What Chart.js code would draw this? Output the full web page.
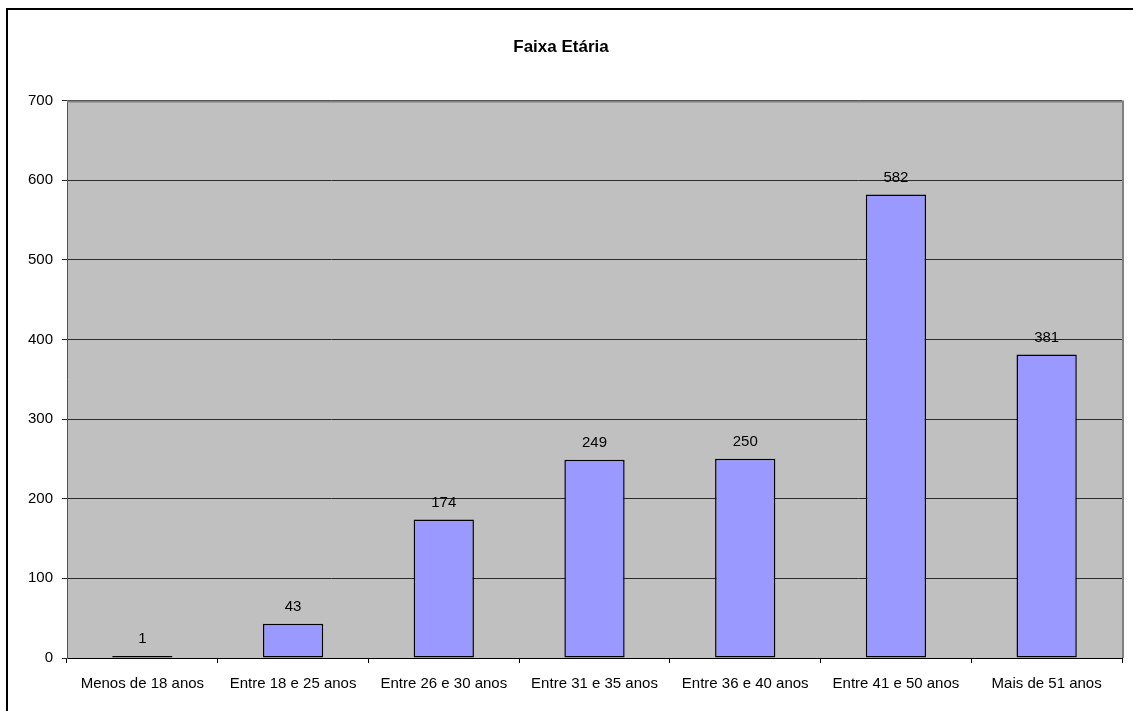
<!DOCTYPE html>
<html>
<head>
<meta charset="utf-8">
<title>Faixa Etária</title>
<script src="https://cdn.jsdelivr.net/npm/chart.js@4/dist/chart.umd.min.js"></script>
<style>
  html, body { margin: 0; padding: 0; background: #fff; }
  #chart { display: block; }
</style>
</head>
<body>
<canvas id="chart" width="1133" height="711"></canvas>
<script>
// age brackets and respondent counts
const faixas = ['Menos de 18 anos', 'Entre 18 e 25 anos', 'Entre 26 e 30 anos', 'Entre 31 e 35 anos',
  'Entre 36 e 40 anos', 'Entre 41 e 50 anos', 'Mais de 51 anos'];
const totais = [1, 43, 174, 249, 250, 582, 381];
const yTicks = [0, 100, 200, 300, 400, 500, 600, 700];

const FONT = 'Arial, "Liberation Sans", sans-serif';

// gray plot background, frame and the black corner border of the sheet
const chartFrame = {
  id: 'chartFrame',
  beforeDraw(chart) {
    const { ctx, chartArea: a } = chart;
    ctx.save();
    ctx.fillStyle = '#fff';
    ctx.fillRect(0, 0, chart.width, chart.height);
    ctx.fillStyle = '#c0c0c0';
    ctx.fillRect(a.left, a.top, a.right - a.left, a.bottom - a.top);
    ctx.restore();
  },
  afterDraw(chart) {
    const { ctx, chartArea: a } = chart;
    ctx.save();
    ctx.strokeStyle = '#808080';
    ctx.lineWidth = 2;
    ctx.beginPath();
    ctx.moveTo(a.left, a.top + 1);
    ctx.lineTo(a.right + 1, a.top + 1);
    ctx.lineTo(a.right + 1, a.bottom);
    ctx.stroke();

    ctx.strokeStyle = '#000';
    ctx.beginPath();
    ctx.moveTo(7, chart.height);
    ctx.lineTo(7, 9);
    ctx.lineTo(chart.width, 9);
    ctx.stroke();
    ctx.restore();
  }
};

// value printed above each bar
const valueLabels = {
  id: 'valueLabels',
  afterDatasetsDraw(chart) {
    const { ctx } = chart;
    const meta = chart.getDatasetMeta(0);
    ctx.save();
    ctx.fillStyle = '#000';
    ctx.font = '15px ' + FONT;
    ctx.textAlign = 'center';
    ctx.textBaseline = 'middle';
    meta.data.forEach((bar, i) => {
      ctx.fillText(String(totais[i]), bar.x, bar.y - 17);
    });
    ctx.restore();
  }
};

new Chart(document.getElementById('chart'), {
  type: 'bar',
  data: {
    labels: faixas,
    datasets: [{
      data: totais,
      backgroundColor: '#9999ff',
      borderColor: '#000',
      borderWidth: 1.5,
      borderSkipped: false,
      minBarLength: 2,
      barPercentage: 0.4,
      categoryPercentage: 1
    }]
  },
  options: {
    responsive: false,
    animation: false,
    devicePixelRatio: 1,
    layout: { padding: { left: 0, right: 11, top: 0, bottom: 0 } },
    plugins: {
      legend: { display: false },
      tooltip: { enabled: false },
      title: {
        display: true,
        text: 'Faixa Etária',
        color: '#000',
        font: { family: FONT, size: 17, weight: 'bold' },
        padding: { top: 37, bottom: 43 }
      }
    },
    scales: {
      x: {
        grid: { drawOnChartArea: false, drawTicks: true, tickLength: 5, color: '#000', offset: true },
        border: { color: '#000', width: 1 },
        ticks: { color: '#000', font: { family: FONT, size: 15 }, padding: 12, maxRotation: 0, autoSkip: false },
        afterFit(scale) { scale.height = 53; }
      },
      y: {
        min: 0,
        max: 700,
        afterBuildTicks(scale) { scale.ticks = yTicks.map(v => ({ value: v })); },
        grid: { color: '#2a2a2a', tickLength: 5, drawTicks: true },
        border: { color: '#555', width: 1 },
        ticks: { color: '#000', font: { family: FONT, size: 15 }, padding: 9 },
        afterFit(scale) { scale.width = 67; }
      }
    }
  },
  plugins: [chartFrame, valueLabels]
});
</script>
</body>
</html>
